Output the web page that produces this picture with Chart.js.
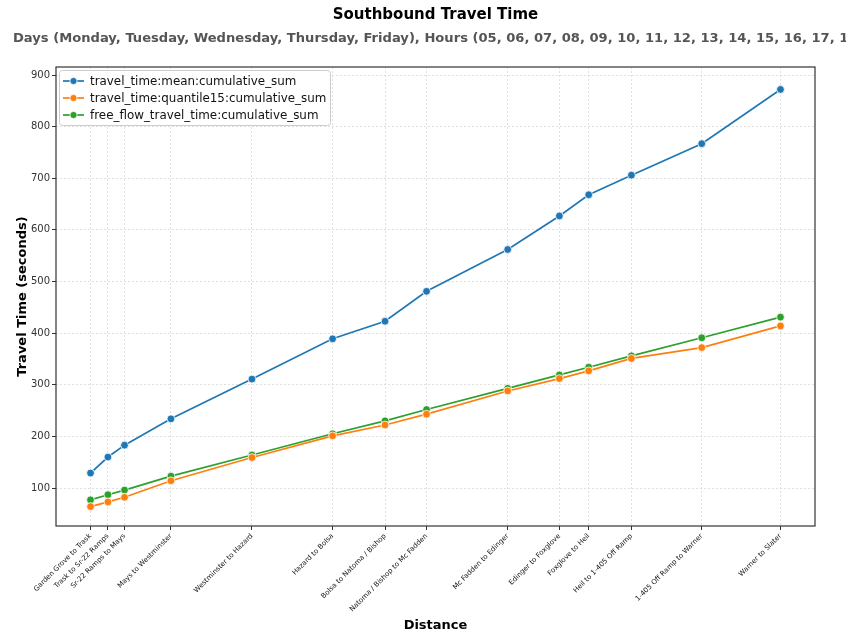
<!DOCTYPE html>
<html>
<head>
<meta charset="utf-8">
<script src="https://cdn.jsdelivr.net/npm/chart.js@4/dist/chart.umd.min.js"></script>
<style>
  html, body { margin: 0; padding: 0; background: #fff; }
  #wrap { width: 846px; height: 631px; overflow: hidden; }
</style>
</head>
<body>
<div id="wrap"><canvas id="chart" width="846" height="631"></canvas></div>
<script>
// segment names along the corridor (x tick labels)
const segments = [
  'Garden Grove to Trask', 'Trask to Sr-22 Ramps', 'Sr-22 Ramps to Mays', 'Mays to Westminster',
  'Westminster to Hazard', 'Hazard to Bolsa', 'Bolsa to Natoma / Bishop', 'Natoma / Bishop to Mc Fadden',
  'Mc Fadden to Edinger', 'Edinger to Foxglove', 'Foxglove to Heil', 'Heil to 1-405 Off Ramp',
  '1-405 Off Ramp to Warner', 'Warner to Slater'
];
// cumulative distance of each segment
const distance = [0, 0.174, 0.34, 0.804, 1.614, 2.42, 2.944, 3.359, 4.17, 4.687, 4.98, 5.407, 6.11, 6.897];

const meanCum = [129, 160, 183, 234, 311, 389, 423, 481, 562, 627, 668, 706, 767, 872];
const q15Cum  = [64, 73, 82, 114, 159, 201, 222, 243, 288, 312, 327, 351, 372, 414];
const freeCum = [77, 87, 96, 123, 164, 205, 230, 252, 293, 319, 334, 356, 391, 431];

const yTicks = [100, 200, 300, 400, 500, 600, 700, 800, 900];

const seriesNames = [
  'travel_time:mean:cumulative_sum',
  'travel_time:quantile15:cumulative_sum',
  'free_flow_travel_time:cumulative_sum'
];
const colors = ['#1f77b4', '#ff7f0e', '#2ca02c'];

const FONT = "'DejaVu Sans', sans-serif";

function toPoints(vals) {
  return vals.map((v, i) => ({ x: distance[i], y: v }));
}

function dataset(i, vals) {
  return {
    label: seriesNames[i],
    data: toPoints(vals),
    borderColor: colors[i],
    backgroundColor: colors[i],
    borderWidth: 1.7,
    pointRadius: 3.9,
    pointBorderColor: '#fff',
    pointBorderWidth: 0.8,
    pointBackgroundColor: colors[i],
    tension: 0
  };
}

// titles, frame and legend (matplotlib style)
const decor = {
  id: 'decor',
  afterDatasetsDraw(chart) {
    const { ctx } = chart;
    ctx.save();
    // legend box
    const lx = 59, ly = 70, lw = 271, lh = 55;
    ctx.beginPath();
    ctx.roundRect(lx + 0.5, ly + 0.5, lw, lh, 3);
    ctx.fillStyle = 'rgba(255,255,255,0.85)';
    ctx.fill();
    ctx.strokeStyle = '#cccccc';
    ctx.lineWidth = 1;
    ctx.stroke();
    ctx.font = '11.9px ' + FONT;
    ctx.textBaseline = 'middle';
    seriesNames.forEach((name, i) => {
      const cy = 81 + i * 17;
      ctx.strokeStyle = colors[i];
      ctx.lineWidth = 1.7;
      ctx.beginPath();
      ctx.moveTo(63, cy);
      ctx.lineTo(84, cy);
      ctx.stroke();
      ctx.beginPath();
      ctx.arc(73.5, cy, 3.6, 0, Math.PI * 2);
      ctx.fillStyle = colors[i];
      ctx.fill();
      ctx.strokeStyle = '#fff';
      ctx.lineWidth = 0.8;
      ctx.stroke();
      ctx.fillStyle = '#111';
      ctx.fillText(name, 90, cy + 0.5);
    });
    ctx.restore();
  },
  afterDraw(chart) {
    const { ctx, chartArea: a } = chart;
    ctx.save();
    ctx.strokeStyle = '#333';
    ctx.lineWidth = 1.2;
    ctx.strokeRect(a.left, a.top, a.right - a.left, a.bottom - a.top);

    ctx.fillStyle = '#000';
    ctx.textAlign = 'center';
    ctx.textBaseline = 'middle';
    ctx.font = 'bold 15px ' + FONT;
    ctx.fillText('Southbound Travel Time', (a.left + a.right) / 2, 15);

    ctx.fillStyle = '#555';
    ctx.textAlign = 'left';
    ctx.font = 'bold 13.1px ' + FONT;
    ctx.fillText('Days (Monday, Tuesday, Wednesday, Thursday, Friday), Hours (05, 06, 07, 08, 09, 10, 11, 12, 13, 14, 15, 16, 17, 18, 19)', 13, 39);

    ctx.fillStyle = '#000';
    ctx.textAlign = 'center';
    ctx.font = 'bold 13px ' + FONT;
    ctx.fillText('Distance', (a.left + a.right) / 2, 626);
    ctx.translate(23, (a.top + a.bottom) / 2);
    ctx.rotate(-Math.PI / 2);
    ctx.fillText('Travel Time (seconds)', 0, 0);
    ctx.restore();
  }
};

const gridOpts = {
  color: '#d9d9d9',
  lineWidth: 0.8,
  drawTicks: true,
  tickLength: 4,
  tickColor: '#333',
  tickWidth: 1,
  tickBorderDash: []
};

new Chart(document.getElementById('chart'), {
  type: 'line',
  data: {
    datasets: [dataset(0, meanCum), dataset(1, q15Cum), dataset(2, freeCum)]
  },
  options: {
    responsive: false,
    animation: false,
    layout: { padding: { top: 67, right: 31, left: 0, bottom: 0 } },
    plugins: {
      legend: { display: false },
      title: { display: false },
      tooltip: { enabled: false }
    },
    scales: {
      x: {
        type: 'linear',
        min: -0.345,
        max: 7.242,
        afterFit: s => { s.height = 105; },
        afterBuildTicks: s => { s.ticks = distance.map(v => ({ value: v })); },
        border: { display: false, dash: [2, 2] },
        grid: gridOpts,
        ticks: {
          autoSkip: false,
          minRotation: 45,
          maxRotation: 45,
          padding: 2,
          color: '#111',
          font: { family: FONT, size: 7 },
          callback: (v) => {
            const i = distance.indexOf(v);
            return i >= 0 ? segments[i] : '';
          }
        }
      },
      y: {
        min: 26.4,
        max: 915.5,
        afterFit: s => { s.width = 56; },
        afterBuildTicks: s => { s.ticks = yTicks.map(v => ({ value: v })); },
        border: { display: false, dash: [2, 2] },
        grid: gridOpts,
        ticks: {
          padding: 2,
          color: '#333',
          font: { family: FONT, size: 10 }
        }
      }
    }
  },
  plugins: [decor]
});
</script>
</body>
</html>
